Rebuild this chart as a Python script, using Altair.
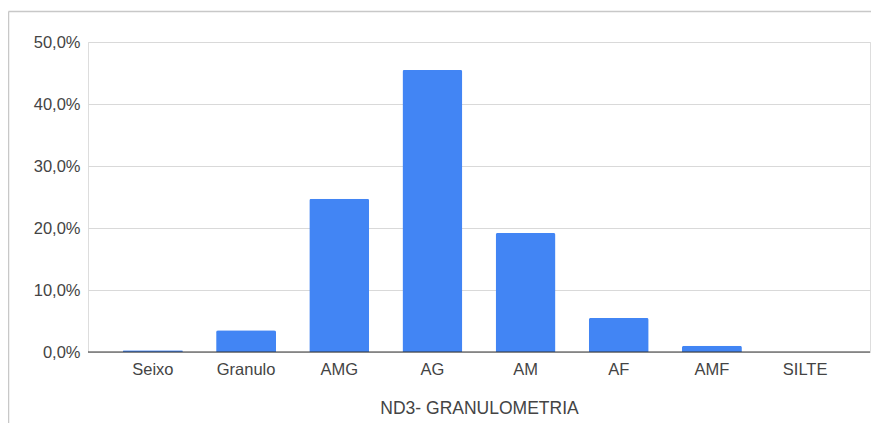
import altair as alt
import pandas as pd

categories = ["Seixo", "Granulo", "AMG", "AG", "AM", "AF", "AMF", "SILTE"]
values = [0.003, 0.035, 0.247, 0.455, 0.192, 0.055, 0.010, 0.0]
y_ticks = [0.0, 0.1, 0.2, 0.3, 0.4, 0.5]

df = pd.DataFrame({"cat": categories, "val": values})

FONT = "Liberation Sans"
TEXT = "#444444"

bars = alt.Chart(df).mark_bar(
    color="#4285F4", cornerRadiusTopLeft=2, cornerRadiusTopRight=2
).encode(
    x=alt.X("cat:N", sort=categories,
            scale=alt.Scale(paddingInner=0.357, paddingOuter=0.375),
            axis=alt.Axis(title="ND3- GRANULOMETRIA", labelAngle=0,
                          labelFont=FONT, labelFontSize=16.5, labelColor=TEXT,
                          labelPadding=9, ticks=False, domain=False,
                          titleFont=FONT, titleFontSize=17.5, titleFontWeight="normal",
                          titleColor=TEXT, titlePadding=22)),
    y=alt.Y("val:Q", scale=alt.Scale(domain=[0, 0.5], nice=False),
            axis=alt.Axis(title=None, values=y_ticks,
                          labelExpr="replace(format(datum.value*100, '.1f'), '.', ',') + '%'",
                          labelFont=FONT, labelFontSize=16.5, labelColor=TEXT,
                          labelPadding=8, ticks=False, domain=False,
                          gridColor="#d9d9d9", gridWidth=1)),
)

zero = alt.Chart(pd.DataFrame({"z": [0.0]})).mark_rule(color="#333", strokeWidth=1).encode(
    y="z:Q"
)

# light frame of the surrounding sheet cell
frame_top = alt.Chart(pd.DataFrame({"k": [0]})).mark_rule(
    color="#c8c8c8", strokeWidth=1.5
).encode(x=alt.value(-79.5), x2=alt.value(783), y=alt.value(-30.5))
frame_left = alt.Chart(pd.DataFrame({"k": [0]})).mark_rule(
    color="#c8c8c8", strokeWidth=1.5
).encode(x=alt.value(-79.5), y=alt.value(-30.5), y2=alt.value(381))

chart = alt.layer(bars, zero, frame_top, frame_left).properties(
    width=782, height=310,
    autosize=alt.AutoSizeParams(type="none"),
    padding={"left": 80, "top": 34, "right": 1, "bottom": 71},
).configure_view(stroke=None).configure(background="white")

chart.save("out.html", embed_options={"renderer": "svg", "actions": False})
